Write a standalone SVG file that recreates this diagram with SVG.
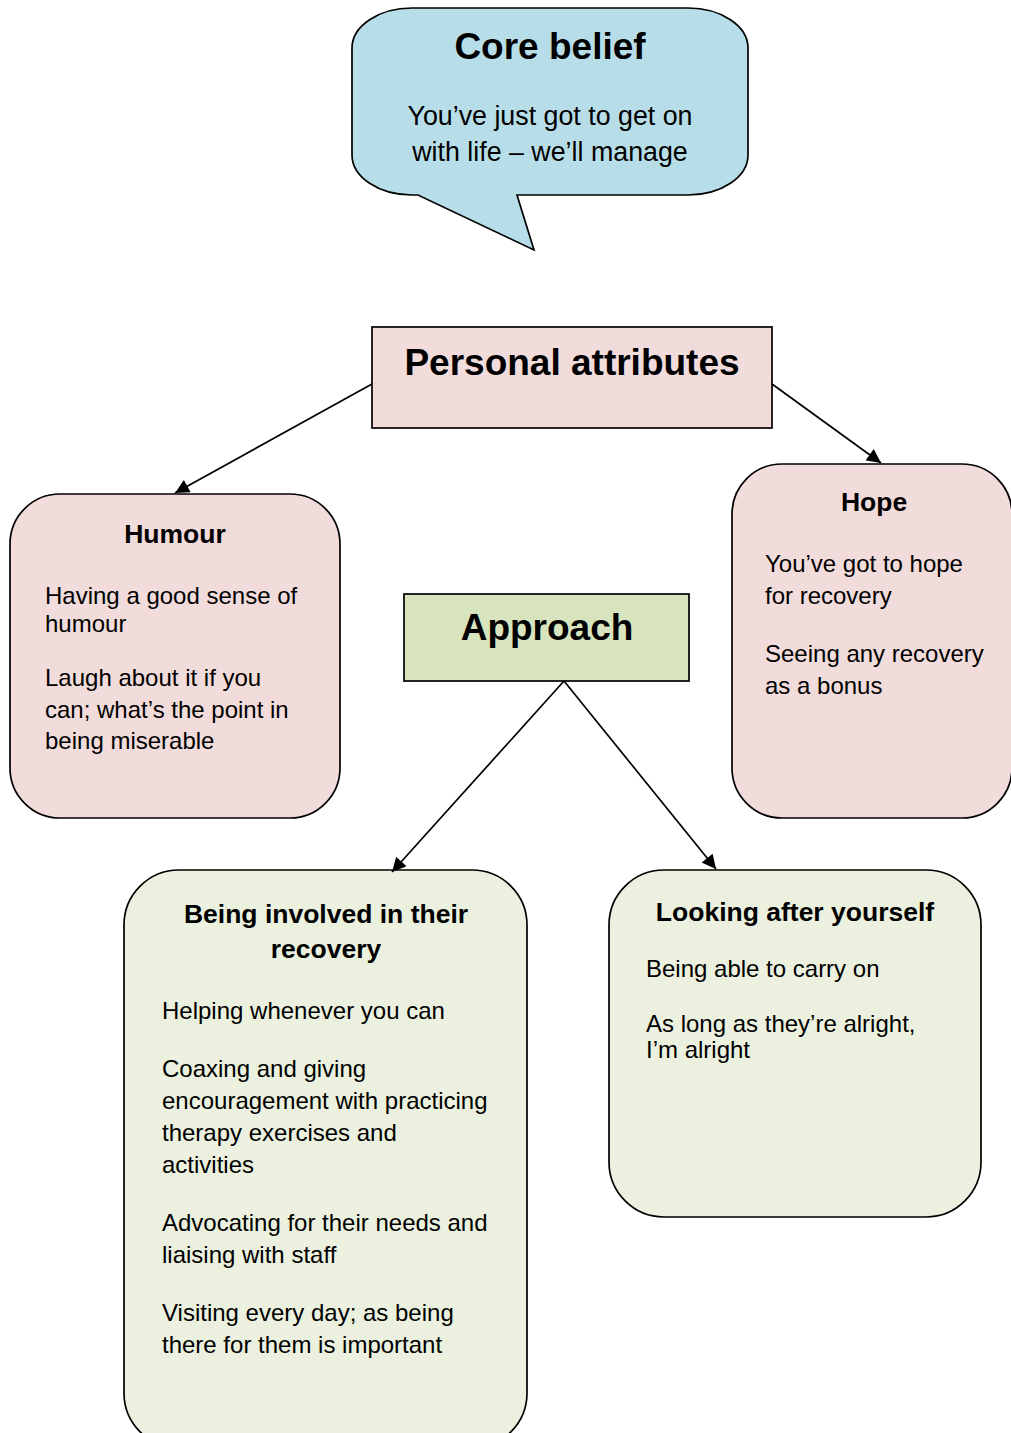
<svg xmlns="http://www.w3.org/2000/svg" width="1011" height="1433" viewBox="0 0 1011 1433">
  <style>
    .box { stroke: #000; stroke-width: 1.7; }
    .pink { fill: #f2dcdb; }
    .blue { fill: #b7dee8; }
    .green { fill: #ebf1de; }
    .olive { fill: #d7e4bd; }
    text { font-family: "Liberation Sans", Arial, sans-serif; fill: #000; }
    .big { font-size: 37px; font-weight: bold; text-anchor: middle; }
    .head { font-size: 26.5px; font-weight: bold; text-anchor: middle; }
    .body { font-size: 24px; }
    .bubble { font-size: 26.8px; text-anchor: middle; }
    .conn { stroke: #000; stroke-width: 1.7; fill: none; marker-end: url(#arrow); }
  </style>
  <defs>
    <marker id="arrow" viewBox="0 0 10 10" refX="10" refY="5" markerWidth="15" markerHeight="14" markerUnits="userSpaceOnUse" orient="auto">
      <path d="M0,0 L10,5 L0,10 Z" fill="#000"/>
    </marker>
  </defs>

  <rect width="1011" height="1433" fill="#fff"/>

  <!-- Speech bubble: core belief -->
  <g id="core-belief">
    <path class="box blue" d="M412,8 H688 A60,40 0 0 1 748,48 V155 A60,40 0 0 1 688,195 H517 L534,250 L418,195 H412 A60,40 0 0 1 352,155 V48 A60,40 0 0 1 412,8 Z"/>
    <text class="big" x="550" y="59">Core belief</text>
    <text class="bubble" x="550" y="125">You’ve just got to get on</text>
    <text class="bubble" x="550" y="161">with life – we’ll manage</text>
  </g>

  <g id="personal-attributes">
    <rect class="box pink" x="372" y="327" width="400" height="101"/>
    <text class="big" x="572" y="375">Personal attributes</text>
  </g>

  <g id="humour">
    <rect class="box pink" x="10" y="494" width="330" height="324" rx="50" ry="50"/>
    <text class="head" x="175" y="543">Humour</text>
    <text class="body" x="45" y="604">Having a good sense of</text>
    <text class="body" x="45" y="632">humour</text>
    <text class="body" x="45" y="686">Laugh about it if you</text>
    <text class="body" x="45" y="718">can; what’s the point in</text>
    <text class="body" x="45" y="749">being miserable</text>
  </g>

  <g id="hope">
    <rect class="box pink" x="732" y="464" width="280" height="354" rx="50" ry="50"/>
    <text class="head" x="874" y="511">Hope</text>
    <text class="body" x="765" y="572">You’ve got to hope</text>
    <text class="body" x="765" y="604">for recovery</text>
    <text class="body" x="765" y="662">Seeing any recovery</text>
    <text class="body" x="765" y="694">as a bonus</text>
  </g>

  <g id="approach">
    <rect class="box olive" x="404" y="594" width="285" height="87"/>
    <text class="big" x="547" y="640">Approach</text>
  </g>

  <g id="being-involved">
    <rect class="box green" x="124" y="870" width="403" height="578" rx="55" ry="55"/>
    <text class="head" x="326" y="923">Being involved in their</text>
    <text class="head" x="326" y="958">recovery</text>
    <text class="body" x="162" y="1019">Helping whenever you can</text>
    <text class="body" x="162" y="1077">Coaxing and giving</text>
    <text class="body" x="162" y="1109">encouragement with practicing</text>
    <text class="body" x="162" y="1141">therapy exercises and</text>
    <text class="body" x="162" y="1173">activities</text>
    <text class="body" x="162" y="1231">Advocating for their needs and</text>
    <text class="body" x="162" y="1263">liaising with staff</text>
    <text class="body" x="162" y="1321">Visiting every day; as being</text>
    <text class="body" x="162" y="1353">there for them is important</text>
  </g>

  <g id="looking-after-yourself">
    <rect class="box green" x="609" y="870" width="372" height="347" rx="55" ry="55"/>
    <text class="head" x="795" y="921">Looking after yourself</text>
    <text class="body" x="646" y="977">Being able to carry on</text>
    <text class="body" x="646" y="1032">As long as they’re alright,</text>
    <text class="body" x="646" y="1058">I’m alright</text>
  </g>

  <!-- Connectors -->
  <g id="connectors">
    <line class="conn" x1="372" y1="384" x2="175" y2="493"/>
    <line class="conn" x1="772" y1="384" x2="881" y2="463"/>
    <line class="conn" x1="564" y1="681" x2="392" y2="872"/>
    <line class="conn" x1="564" y1="681" x2="716" y2="869"/>
  </g>
</svg>
